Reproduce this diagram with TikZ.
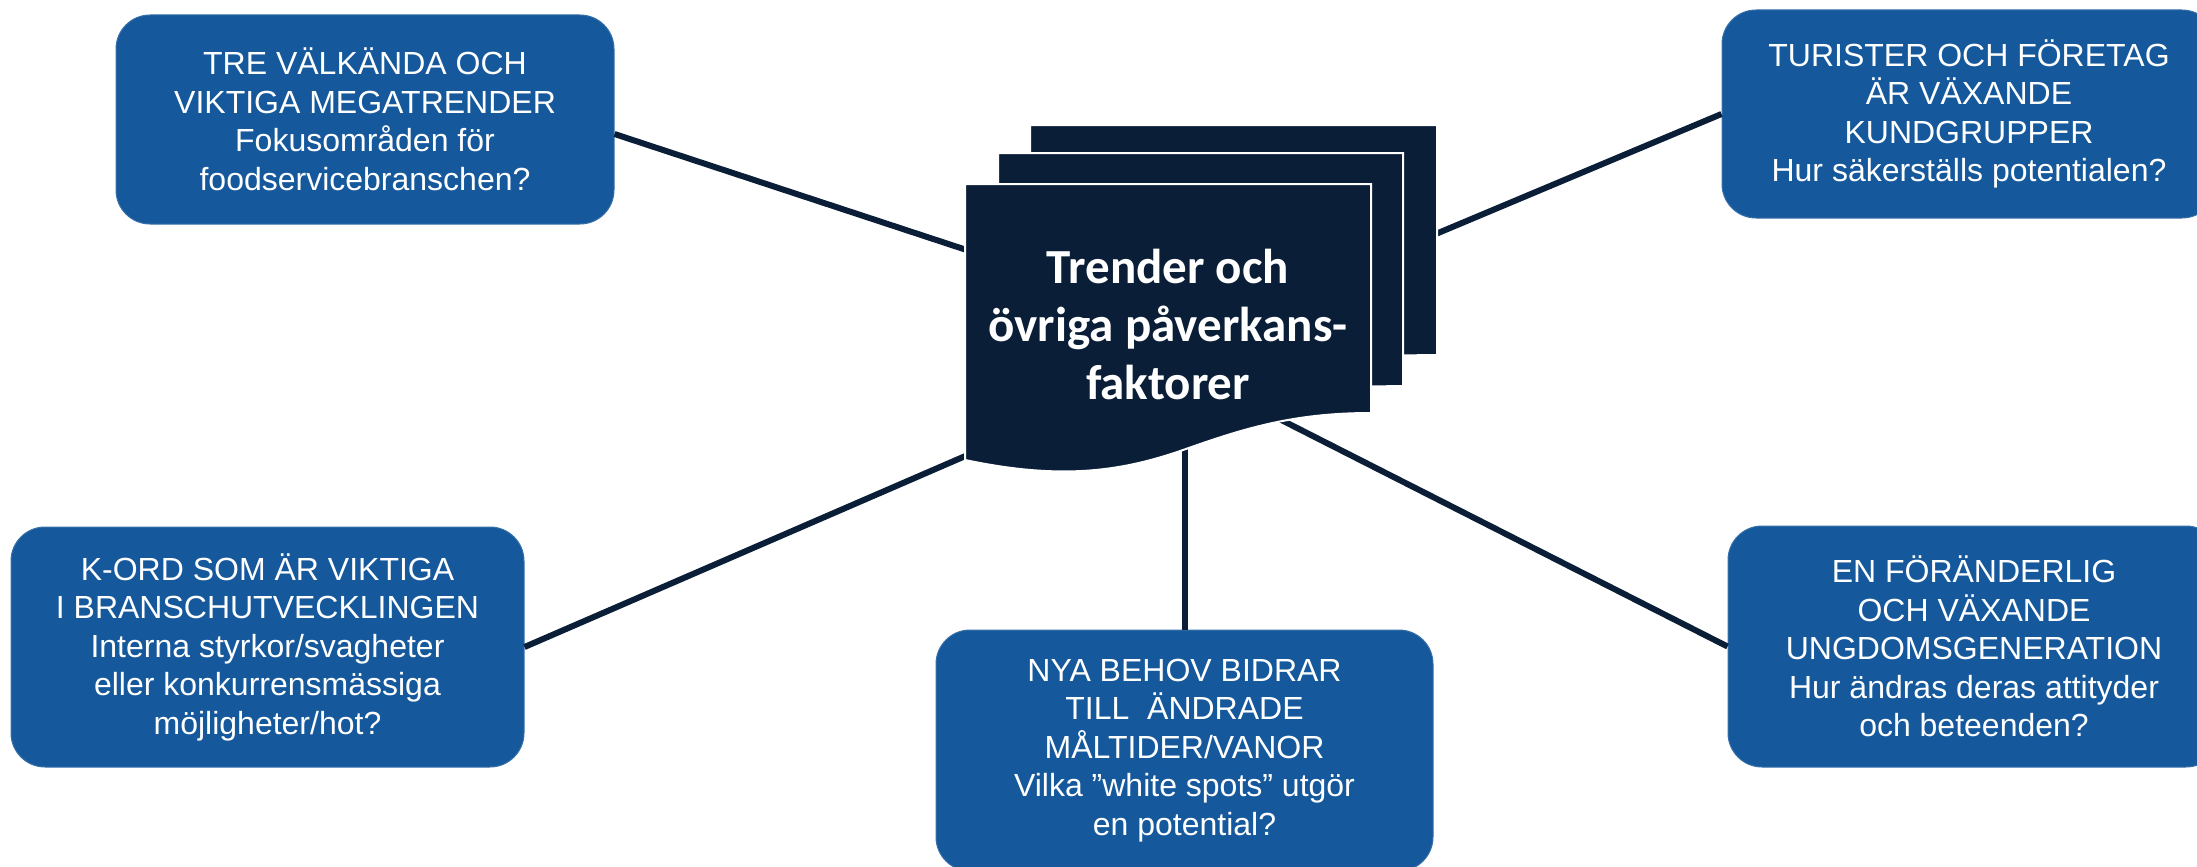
\documentclass[tikz,border=0pt]{standalone}
\usepackage{fontspec}
\setmainfont{Liberation Sans}
\newfontfamily\trendfont{Carlito}
\definecolor{fsnavy}{RGB}{10,31,55}
\definecolor{fsblue}{RGB}{21,88,155}
\tikzset{
  fsbox/.style={fill=fsblue, draw=fsblue!85!white, line width=1pt,
    rounded corners=34pt, text=white, align=center, inner sep=0pt,
    font=\fontsize{32}{38.5}\selectfont},
  fslink/.style={draw=fsnavy, line width=6pt},
  fspage/.style={fill=fsnavy, draw=white, line width=2pt}
}

\begin{document}
\begin{tikzpicture}[x=1pt,y=-1pt]
\useasboundingbox (0,0) rectangle (2197,867);

\node[fsbox, minimum width=498pt, minimum height=209pt] (tl) at (365,119.5)
  {TRE VÄLKÄNDA OCH\\VIKTIGA MEGATRENDER\\Fokusområden för\\foodservicebranschen?};
\node[fsbox, minimum width=494pt, minimum height=208pt] (tr) at (1969,114)
  {TURISTER OCH FÖRETAG\\ÄR VÄXANDE\\KUNDGRUPPER\\Hur säkerställs potentialen?};
\node[fsbox, minimum width=513pt, minimum height=240pt] (bl) at (267.5,647)
  {K-ORD SOM ÄR VIKTIGA\\I BRANSCHUTVECKLINGEN\\Interna styrkor/svagheter\\eller konkurrensmässiga\\möjligheter/hot?};
\node[fsbox, minimum width=497pt, minimum height=241pt] (bc) at (1184.5,750.5)
  {NYA BEHOV BIDRAR\\TILL\ \ ÄNDRADE\\MÅLTIDER/VANOR\\Vilka ”white spots” utgör\\en potential?};
\node[fsbox, minimum width=492pt, minimum height=241pt] (br) at (1974,646.5)
  {EN FÖRÄNDERLIG\\OCH VÄXANDE\\UNGDOMSGENERATION\\Hur ändras deras attityder\\och beteenden?};

\coordinate (hTL) at (1000,261);
\coordinate (hTR) at (1400,249);
\coordinate (hBL) at (1000,441);
\coordinate (hB) at (1184.5,420);
\coordinate (hBR) at (1240,399);
\draw[fslink] (tl.east |- 0,134) -- (hTL);
\draw[fslink] (tr.west) -- (hTR);
\draw[fslink] (bl.east) -- (hBL);
\draw[fslink] (bc.north) -- (hB);
\draw[fslink] (br.west) -- (hBR);

\filldraw[fspage] (1030,125) -- (1437,125) -- (1437,355) -- (1030,360) -- cycle;
\filldraw[fspage] (998,153) -- (1403,153) -- (1403,386) -- (998,392) -- cycle;
\filldraw[fspage] (965,184) -- (1371,184) -- (1371,413)
  .. controls (1290,413) and (1240,430) .. (1183,450)
  .. controls (1120,472) and (1060,480) .. (965,460) -- cycle;
\node[text=white, align=center, inner sep=0pt,
  font=\trendfont\bfseries\fontsize{49}{58}\selectfont] (trend) at (1168,324)
  {Trender och\\övriga påverkans-\\faktorer};
\end{tikzpicture}
\end{document}
